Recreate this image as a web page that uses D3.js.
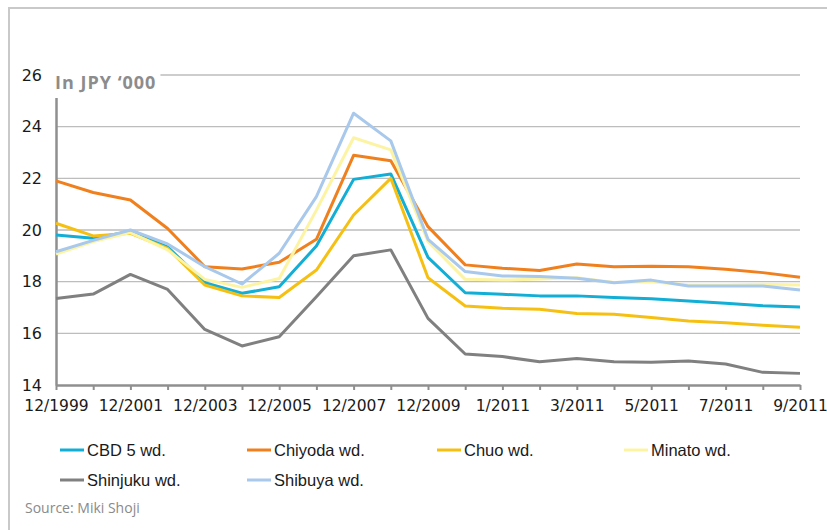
<!DOCTYPE html>
<html>
<head>
<meta charset="utf-8">
<script src="https://cdn.jsdelivr.net/npm/d3@7"></script>
<style>
  body { margin: 0; background: #fff; }
</style>
</head>
<body>
<div id="rent-chart"></div>
<script>
// periods on the x axis
var periods = ["12/1999", "12/2000", "12/2001", "12/2002", "12/2003", "12/2004", "12/2005",
  "12/2006", "12/2007", "12/2008", "12/2009", "12/2010", "1/2011", "2/2011", "3/2011",
  "4/2011", "5/2011", "6/2011", "7/2011", "8/2011", "9/2011"];

var yTicks = [14, 16, 18, 20, 22, 24, 26];

// rent per tsubo, JPY '000
var cbd5 = [19.81, 19.68, 19.94, 19.35, 17.96, 17.55, 17.8, 19.38, 21.96, 22.17, 18.94,
  17.57, 17.51, 17.45, 17.45, 17.39, 17.34, 17.25, 17.16, 17.07, 17.02];
var chiyoda = [21.9, 21.45, 21.16, 20.06, 18.58, 18.49, 18.75, 19.64, 22.89, 22.68, 20.13,
  18.65, 18.52, 18.43, 18.68, 18.58, 18.6, 18.58, 18.48, 18.35, 18.17];
var chuo = [20.26, 19.77, 19.87, 19.29, 17.87, 17.45, 17.39, 18.45, 20.58, 22.0, 18.15,
  17.06, 16.97, 16.93, 16.77, 16.74, 16.61, 16.48, 16.41, 16.31, 16.24];
var minato = [19.07, 19.55, 19.9, 19.23, 18.09, 17.78, 18.12, 20.77, 23.57, 23.1, 19.55,
  18.09, 18.06, 18.1, 18.15, 17.97, 18.0, 17.87, 17.87, 17.9, 17.87];
var shinjuku = [17.35, 17.52, 18.28, 17.7, 16.15, 15.51, 15.87, 17.42, 19.0, 19.23, 16.58,
  15.2, 15.1, 14.9, 15.03, 14.9, 14.88, 14.93, 14.81, 14.49, 14.45];
var shibuya = [19.16, 19.6, 20.0, 19.46, 18.58, 17.91, 19.1, 21.29, 24.52, 23.45, 19.64,
  18.39, 18.22, 18.2, 18.13, 17.96, 18.06, 17.83, 17.83, 17.83, 17.68];

var seriesNames = ["CBD 5 wd.", "Chiyoda wd.", "Chuo wd.", "Minato wd.", "Shinjuku wd.", "Shibuya wd."];
var seriesValues = [cbd5, chiyoda, chuo, minato, shinjuku, shibuya];

var color = d3.scaleOrdinal()
  .domain(seriesNames)
  .range(["#12aed6", "#f0801e", "#f6c012", "#fcf4a2", "#808080", "#a8c8ec"]);

var W = 827, H = 530;
var margin = {top: 75, right: 27, bottom: 145, left: 56};

var svg = d3.select("#rent-chart")
  .append("svg")
  .attr("width", W)
  .attr("height", H)
  .style("font-family", "'DejaVu Sans', sans-serif");

// frame (top + left edge only)
svg.append("path")
  .attr("d", "M9,530 V8 H827")
  .attr("fill", "none")
  .attr("stroke", "#c9c9c9")
  .attr("stroke-width", 2);

var x = d3.scalePoint()
  .domain(periods)
  .range([margin.left, W - margin.right]);

var y = d3.scaleLinear()
  .domain([14, 26])
  .range([H - margin.bottom, margin.top]);

// gridlines
svg.append("g")
  .selectAll("line")
  .data(yTicks.slice(1))
  .enter()
  .append("line")
    .attr("x1", margin.left)
    .attr("x2", W - margin.right)
    .attr("y1", function(d) { return y(d); })
    .attr("y2", function(d) { return y(d); })
    .attr("stroke", "#bdbdbd")
    .attr("stroke-width", 1.4);

// y axis
var yAxis = svg.append("g")
  .attr("transform", "translate(" + margin.left + ",0)")
  .call(d3.axisLeft(y).tickValues(yTicks).tickSize(0).tickPadding(14).tickFormat(d3.format("d")));
yAxis.select(".domain").attr("stroke", "#8f8f8f").attr("stroke-width", 2.5);
yAxis.selectAll("text")
  .attr("font-size", 16)
  .attr("font-family", "'DejaVu Sans', sans-serif")
  .attr("fill", "#1a1a1a");

// x axis
var xAxis = svg.append("g")
  .attr("transform", "translate(0," + y(14) + ")")
  .call(d3.axisBottom(x).tickSize(5).tickPadding(10).tickSizeOuter(0)
    .tickFormat(function(d, i) { return i % 2 === 0 ? d : ""; }));
xAxis.select(".domain").attr("stroke", "#8f8f8f").attr("stroke-width", 2.5);
xAxis.selectAll(".tick line").attr("stroke", "#8f8f8f").attr("stroke-width", 2);
xAxis.selectAll("text")
  .attr("font-size", 15.5)
  .attr("font-family", "'DejaVu Sans', sans-serif")
  .attr("fill", "#1a1a1a");

// unit label, sits on a white patch over the top gridline
var unitG = svg.append("g");
var unit = unitG.append("text")
  .attr("x", margin.left - 1)
  .attr("y", y(26) + 14)
  .attr("font-family", "'Open Sans', sans-serif")
  .attr("font-weight", "bold")
  .attr("font-size", 18)
  .attr("letter-spacing", 1)
  .attr("fill", "#8c8c8c")
  .text("In JPY \u2018000");
var bb = unit.node().getBBox();
unitG.insert("rect", "text")
  .attr("x", bb.x - 2)
  .attr("y", bb.y - 2)
  .attr("width", bb.width + 6)
  .attr("height", bb.height + 6)
  .attr("fill", "#fff");

// lines
var line = d3.line()
  .x(function(d, i) { return x(periods[i]); })
  .y(function(d) { return y(d); });

svg.append("g")
  .selectAll("path")
  .data(seriesValues)
  .enter()
  .append("path")
    .attr("d", function(d) { return line(d); })
    .attr("fill", "none")
    .attr("stroke", function(d, i) { return color(seriesNames[i]); })
    .attr("stroke-width", 3)
    .attr("stroke-linejoin", "round");

// legend
var legendCols = [60, 247, 437, 624];
var legend = svg.append("g")
  .selectAll("g")
  .data(seriesNames)
  .enter()
  .append("g")
    .attr("transform", function(d, i) {
      return "translate(" + legendCols[i % 4] + "," + (450 + Math.floor(i / 4) * 30) + ")";
    });

legend.append("line")
  .attr("x1", 0)
  .attr("x2", 24)
  .attr("stroke", function(d) { return color(d); })
  .attr("stroke-width", 3);

legend.append("text")
  .attr("x", 27)
  .attr("y", 6)
  .attr("font-family", "'Liberation Sans', Arial, sans-serif")
  .attr("font-size", 16.5)
  .attr("fill", "#1a1a1a")
  .text(function(d) { return d; });

svg.append("text")
  .attr("x", 25)
  .attr("y", 513)
  .attr("font-family", "'Open Sans', sans-serif")
  .attr("font-size", 14)
  .attr("fill", "#8a8a8a")
  .text("Source: Miki Shoji");
</script>
</body>
</html>
